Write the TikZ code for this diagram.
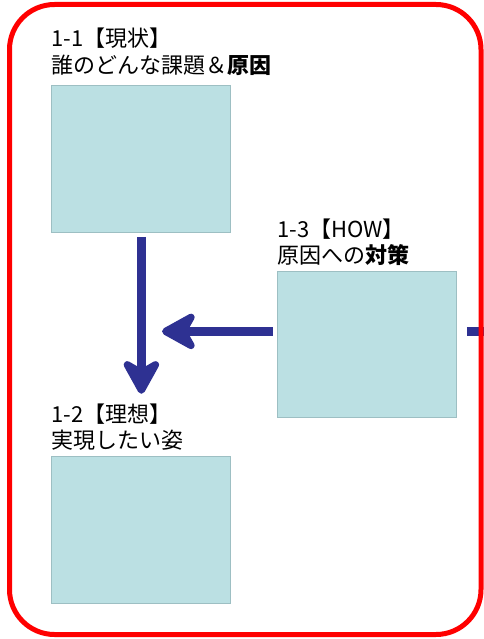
\documentclass[tikz,border=0pt]{standalone}
\usepackage{fontspec}
\setmainfont{Noto Sans CJK JP}
\usetikzlibrary{arrows.meta,calc}
\definecolor{boxfill}{HTML}{BBE0E3}
\definecolor{boxline}{HTML}{9DBFC3}
\definecolor{arrowcol}{HTML}{2E3192}
\definecolor{framered}{HTML}{FF0000}
\tikzset{
  card/.style={draw=boxline, line width=0.8pt, fill=boxfill, anchor=north west, inner sep=0pt},
  lbl/.style={anchor=base west, inner sep=0pt, font=\fontsize{22}{26}\selectfont},
  bigarrow/.style={draw=arrowcol, line width=9pt, -{Stealth[length=42pt,width=46pt,inset=13pt,round]}},
  stub/.style={draw=arrowcol, line width=9pt},
}
\begin{document}
\begin{tikzpicture}[x=1pt,y=-1pt]
\useasboundingbox (0,0) rectangle (483,639);
% boxes
\node[card, minimum width=179pt, minimum height=147pt] (b1) at (51,85) {};
\node[card, minimum width=179pt, minimum height=146pt] (b3) at (277,270.5) {};
\node[card, minimum width=179pt, minimum height=147pt] (b2) at (51,456) {};
% labels
\node[lbl] (t1a) at (51,47) {1-1【現状】};
\node[lbl] (t1b) at (51,74) {誰のどんな課題＆\textbf{原因}};
\node[lbl] (t3a) at (277,237) {1-3【HOW】};
\node[lbl] (t3b) at (277,263) {原因への\textbf{対策}};
\node[lbl] (t2a) at (51,422) {1-2【理想】};
\node[lbl] (t2b) at (51,448) {実現したい姿};
% arrows
\coordinate (vtip) at ($(b1.south)+(0.5,161)$);
\draw[bigarrow] ($(b1.south)+(0.5,4)$) -- (vtip);
\coordinate (htip) at ($(b3.west)+(-115,-12.5)$);
\draw[bigarrow] ($(b3.west)+(-4.5,-12.5)$) -- (htip);
\coordinate (sout) at ($(b3.east)+(30,-12.5)$);
\draw[stub] ($(b3.east)+(10,-12.5)$) -- (sout);
% frame
\draw[framered, line width=5pt, rounded corners=45pt] (9.5,4.5) rectangle (481,634.5);
\end{tikzpicture}
\end{document}
